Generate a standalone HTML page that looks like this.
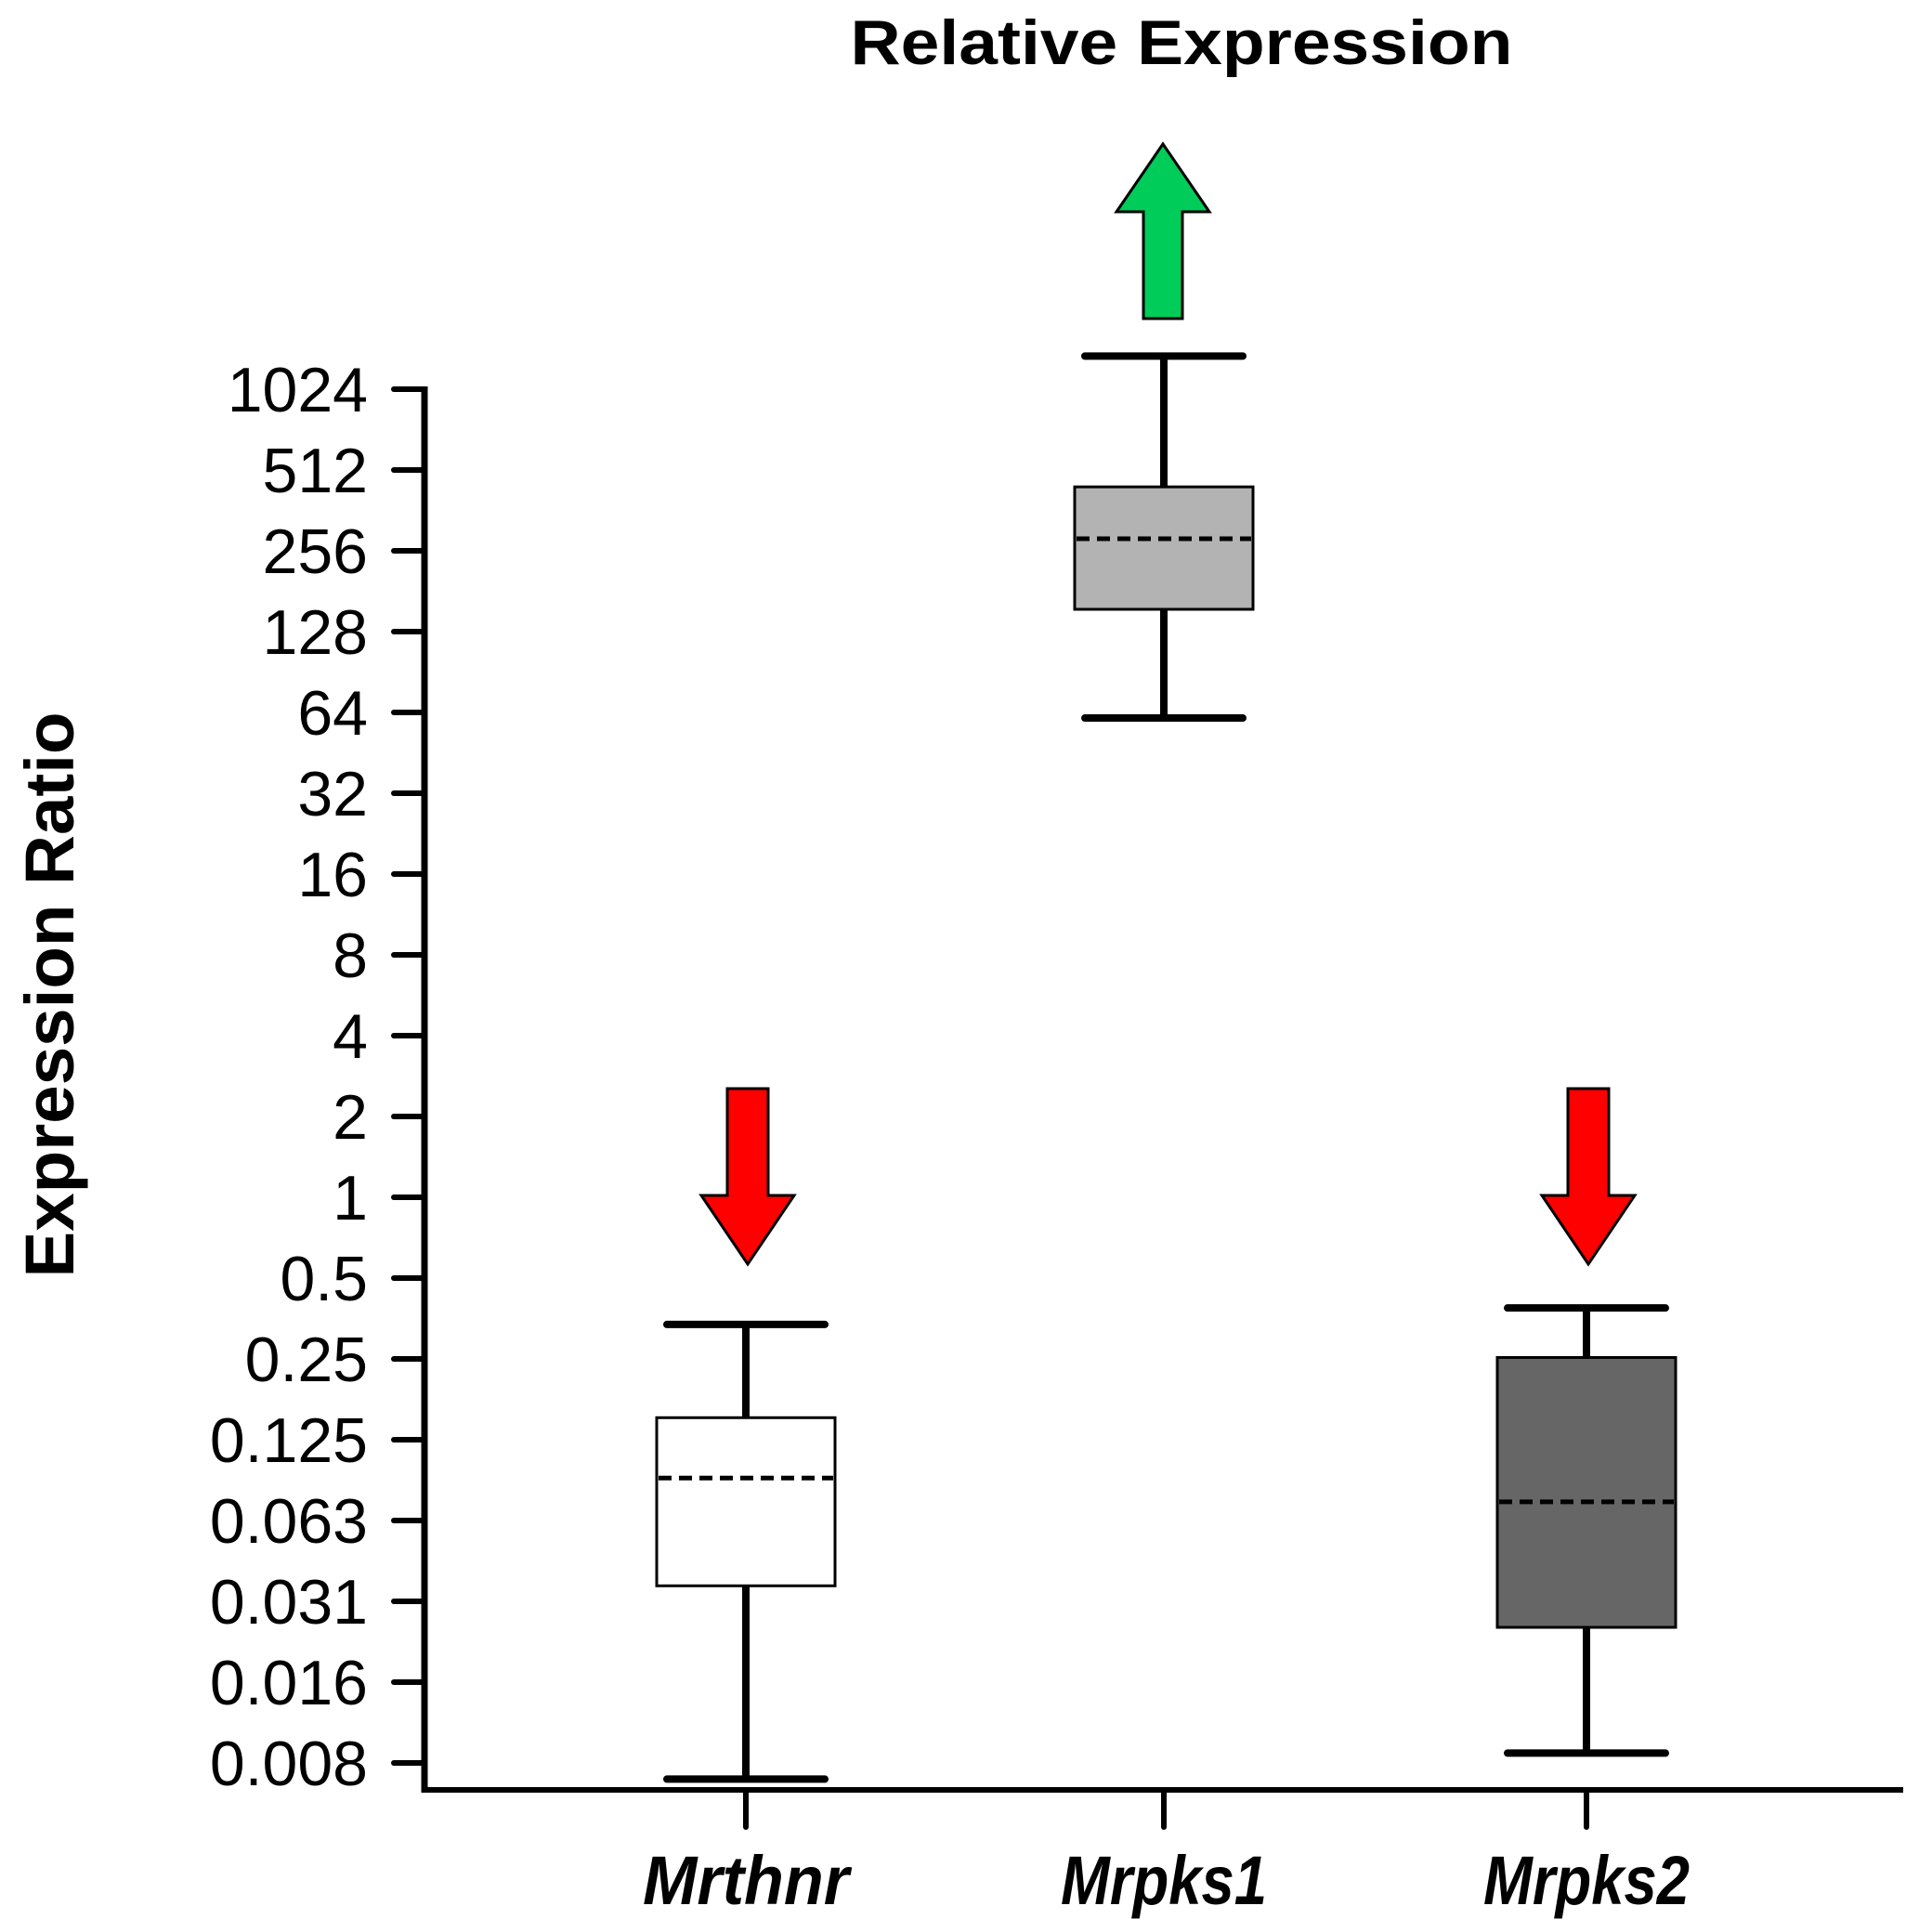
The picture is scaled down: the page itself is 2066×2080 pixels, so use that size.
<!DOCTYPE html>
<html><head><meta charset="utf-8"><style>
html,body{margin:0;padding:0;background:#fff;}
svg{display:block;}
text{font-family:"Liberation Sans",Arial,sans-serif;fill:#000;}
</style></head><body>
<svg id="chart" width="2066" height="2080" viewBox="0 0 2066 2080" xmlns="http://www.w3.org/2000/svg">
<text x="1272" y="69" font-size="68" font-weight="bold" text-anchor="middle" textLength="713" lengthAdjust="spacingAndGlyphs">Relative Expression</text>
<text transform="translate(79,1071) rotate(-90)" font-size="74" font-weight="bold" text-anchor="middle" textLength="609" lengthAdjust="spacingAndGlyphs">Expression Ratio</text>
<g id="ticks"></g>
<g id="boxes"></g>
<g id="arrows"></g>
<g id="axes"></g>
</svg>
<script>
const categories = ["Mrthnr", "Mrpks1", "Mrpks2"];
const whiskerLow = [0.0068, 61, 0.0085];
const q1 = [0.0357, 155, 0.0250];
const medians = [0.090, 284, 0.0734];
const q3 = [0.151, 443, 0.253];
const whiskerHigh = [0.336, 1360, 0.387];
const boxFills = ["#ffffff", "#b3b3b3", "#666666"];
const tickValues = [1024,512,256,128,64,32,16,8,4,2,1,0.5,0.25,0.125,0.0625,0.03125,0.015625,0.0078125];
const tickLabels = ["1024","512","256","128","64","32","16","8","4","2","1","0.5","0.25","0.125","0.063","0.031","0.016","0.008"];
const arrowDirs = ["down", "up", "down"];

const NS = "http://www.w3.org/2000/svg";
const Y0 = 419, STEP = 87.0;
function yScale(v){ return Y0 + (10 - Math.log2(v)) * STEP; }
const catX = [803, 1253, 1708];
function xScale(i){ return catX[i]; }
function mk(tag, attrs, parent){
  const e = document.createElementNS(NS, tag);
  for (const k in attrs) e.setAttribute(k, attrs[k]);
  parent.appendChild(e);
  return e;
}
const gT = document.getElementById('ticks');
const gB = document.getElementById('boxes');
const gA = document.getElementById('arrows');
const gX = document.getElementById('axes');

tickValues.forEach((v, i) => {
  const y = yScale(v);
  const t = mk('line', {x1:424, x2:457, y1:y, y2:y, stroke:'#000', 'stroke-width':6, 'stroke-linecap':'round'}, gT);
  
  
  const l = mk('text', {x:396, y:y+24, 'font-size':68, 'text-anchor':'end'}, gT);
  l.textContent = tickLabels[i];
  
  
});

categories.forEach((c, i) => {
  const x = xScale(i);
  const g = mk('g', {}, gB);
  
  
  mk('line', {x1:x, x2:x, y1:yScale(whiskerHigh[i]), y2:yScale(q3[i]), stroke:'#000', 'stroke-width':8}, g);
  mk('line', {x1:x, x2:x, y1:yScale(q1[i]), y2:yScale(whiskerLow[i]), stroke:'#000', 'stroke-width':8}, g);
  const cap1 = mk('line', {x1:x-85, x2:x+85, y1:yScale(whiskerHigh[i]), y2:yScale(whiskerHigh[i]), stroke:'#000', 'stroke-width':8, 'stroke-linecap':'round'}, g);
  
  
  const cap2 = mk('line', {x1:x-85, x2:x+85, y1:yScale(whiskerLow[i]), y2:yScale(whiskerLow[i]), stroke:'#000', 'stroke-width':8, 'stroke-linecap':'round'}, g);
  
  
  const r = mk('rect', {x:x-96, y:yScale(q3[i]), width:192, height:yScale(q1[i])-yScale(q3[i]), fill:boxFills[i], stroke:'#000', 'stroke-width':3}, g);
  
  
  const m = mk('line', {x1:x-94, x2:x+94, y1:yScale(medians[i]), y2:yScale(medians[i]), stroke:'#000', 'stroke-width':5, 'stroke-dasharray':'14 8'}, g);
  
  

  const ax = x + (i === 1 ? -1 : 2);
  let pts;
  if (arrowDirs[i] === 'up') {
    pts = [[ax,155],[ax+50,228],[ax+21,228],[ax+21,343],[ax-21,343],[ax-21,228],[ax-50,228]];
  } else {
    pts = [[ax-22,1172],[ax+22,1172],[ax+22,1287],[ax+50,1287],[ax,1361],[ax-50,1287],[ax-22,1287]];
  }
  const p = mk('polygon', {points: pts.map(q => q.join(',')).join(' '), fill: arrowDirs[i] === 'up' ? '#00cc5a' : '#ff0000', stroke:'#000', 'stroke-width':3, 'stroke-linejoin':'miter'}, gA);
  
  

  const tk = mk('line', {x1:x, x2:x, y1:1927, y2:1967, stroke:'#000', 'stroke-width':6, 'stroke-linecap':'round'}, gX);
  
  
  const lb = mk('text', {x:x, y:2050, 'font-size':74, 'font-weight':'bold', 'font-style':'italic', 'text-anchor':'middle', textLength:222, lengthAdjust:'spacingAndGlyphs'}, gX);
  lb.textContent = c;
  
  
});

const ya = mk('line', {x1:457, x2:457, y1:416, y2:1930, stroke:'#000', 'stroke-width':7}, gX);


const xa = mk('line', {x1:454, x2:2049, y1:1927, y2:1927, stroke:'#000', 'stroke-width':6}, gX);


</script>
</body></html>
